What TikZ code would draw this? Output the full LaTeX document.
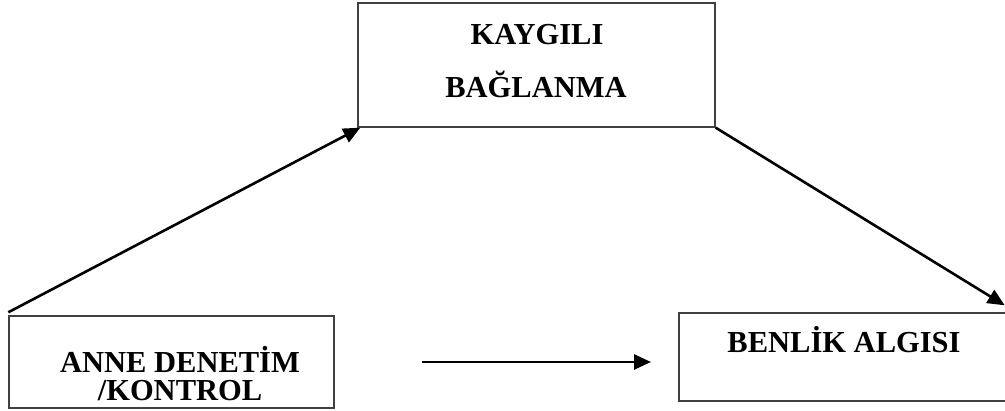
\documentclass[tikz,border=0pt]{standalone}
\usepackage{fontspec}
\setmainfont{Liberation Serif}
\usetikzlibrary{positioning,arrows.meta}

\begin{document}
\begin{tikzpicture}[x=1pt, y=-1pt,
                box/.style = {draw=black!75, line width=1.4pt, rectangle, inner sep=0pt},
                lbl/.style = {anchor=base, inner sep=0pt, font=\fontsize{30.5}{28}\selectfont\bfseries},
                link/.style = {line width=2.6pt, -{Triangle[length=17pt,width=15pt]}}]
            \useasboundingbox (0,0) rectangle (1005,411);
            \node[box, minimum width=357pt, minimum height=124pt] (kaygi) at (536.5,65) {};
            \node[box, minimum width=325pt, minimum height=92pt] (anne) at (171.5,362) {};
            \node[box, minimum width=331pt, minimum height=88pt] (benlik) at (844.5,357) {};
            \node[lbl] (k1) at (537,45) {KAYGILI};
            \node[lbl] (k2) at (536,98) {BAĞLANMA};
            \node[lbl, align=center] (a1) at (180,401) {ANNE DENETİM\\/KONTROL};
            \node[lbl] (b1) at (844,353) {BENLİK ALGISI};
            \coordinate (hs) at (422,362);
            \coordinate (he) at (651,362);
            \draw[link] ([yshift=3pt]anne.north west) -- ([xshift=3pt]kaygi.south west);
            \draw[link] (kaygi.south east) -- ([xshift=-6pt,yshift=7pt]benlik.north east);
            \draw[link] (hs) -- (he);
\end{tikzpicture}
\end{document}
